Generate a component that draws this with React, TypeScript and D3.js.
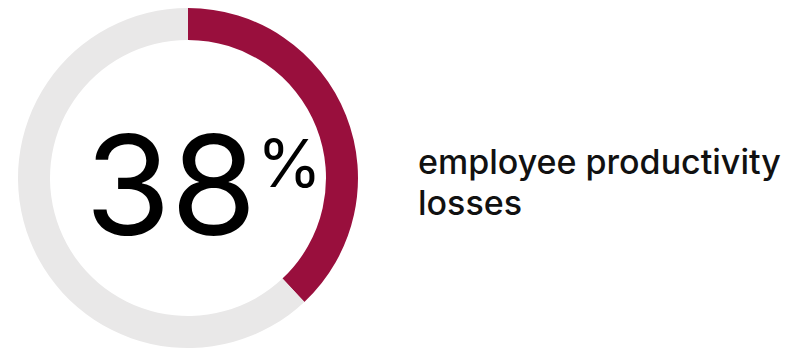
import React from "react";
import * as d3 from "d3";

const categories = ["employee productivity losses", "other"];
const values = [38, 62];
const valueLabel = "38";
const unitLabel = "%";
const labelLines = ["employee productivity", "losses"];
const colors = ["#990f3d", "#e9e8e8"];

export default function App() {
  const W = 788, H = 352;
  const cx = 188, cy = 178, rOuter = 170, rInner = 138;
  const pie = d3.pie<number>().sort(null).value((d) => d)(values);
  const arc = d3.arc<d3.PieArcDatum<number>>().innerRadius(rInner).outerRadius(rOuter);
  return (
    <svg width={W} height={H} style={{ position: "absolute", left: 0, top: 0 }}>
      <rect width={W} height={H} fill="#fff" />
      <g transform={`translate(${cx},${cy})`}>
        {pie.map((p, i) => (
          <path key={categories[i]} d={arc(p) || ""} fill={colors[i]} />
        ))}
      </g>
      <text x={85} y={235} fontFamily="Inter" fontSize={139} fill="#000">{valueLabel}</text>
      <text x={257} y={187} fontFamily="Inter" fontSize={66} fill="#000">{unitLabel}</text>
      {labelLines.map((l, i) => (
        <text key={l} x={418} y={174 + i * 41} fontFamily="Inter" fontWeight={500} fontSize={34} fill="#111">{l}</text>
      ))}
    </svg>
  );
}
